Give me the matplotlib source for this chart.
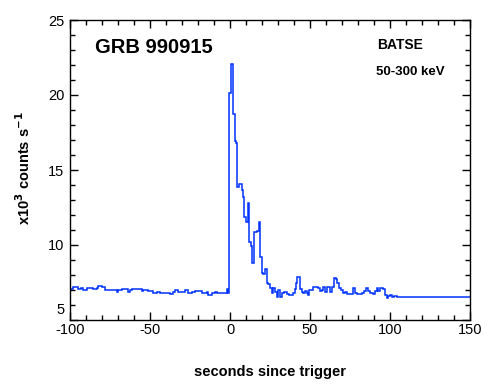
import numpy as np
import matplotlib
matplotlib.use("Agg")
import matplotlib.pyplot as plt
import matplotlib.transforms as mtransforms
from matplotlib.ticker import MultipleLocator

# bin start times (s since trigger) and count rates (x10^3 counts/s)
t_pre = [-100, -97.9, -94.8, -93.3, -91.7, -89.6, -85.4, -83.3, -82.3, -80.2,
         -78.1, -75, -70.8, -69.8, -67.7, -63.5, -62.5, -61.5, -59.4, -57.3,
         -55.2, -54.2, -51, -47.9, -45.8, -43.75, -41.7, -37.5, -35.4, -34.4,
         -32.3, -30.2, -28.1, -26, -24, -21.9, -18.75, -17.7, -14.6, -13.5,
         -11.5, -9.4, -8.3, -2.1, -1.0]
rate_pre = [7.04, 7.18, 7.04, 7.13, 7.0, 7.11, 7.04, 7.13, 7.27, 7.18,
            7.0, 7.0, 6.84, 7.0, 7.04, 6.89, 7.0, 7.09, 7.04, 7.09,
            6.91, 7.0, 6.91, 6.82, 6.89, 6.78, 6.82, 6.73, 6.87, 7.0,
            6.87, 6.84, 7.0, 6.78, 6.87, 6.91, 6.96, 6.78, 6.87, 6.69,
            6.78, 6.84, 6.78, 7.04, 6.78]

t_post = [-0.5, 0.8, 1.7, 2.9, 3.75, 4.6, 5.8, 7.3, 7.9, 9.0,
          9.8, 11.0, 12.1, 12.9, 14.0, 15.2, 17.1, 18.1, 18.75, 19.8,
          20.8, 22.1, 23.3, 24.0, 25.2, 26.5, 27.1, 28.1, 29.2, 30.2,
          31.25, 32.3, 33.75, 35.4, 37.1, 39.2, 40.6, 41.25, 42.1, 43.75,
          44.8, 45.8, 46.9, 47.9, 49.0, 49.6, 52.1, 55.2, 56.25, 57.3,
          58.3, 59.4, 60.4, 62.5, 63.5, 65.0, 66.25, 67.1, 67.9, 69.2,
          70.4, 71.9, 73.3, 77.1, 78.1, 79.2, 82.3, 83.75, 85.0, 86.5,
          87.5, 89.6, 90.6, 91.7, 92.7, 93.75, 95.8, 97.1, 97.9, 99.0,
          100.0, 101.0, 102.7, 104.2]
rate_post = [20.11, 22.07, 18.71, 16.93, 16.78, 13.84, 14.04, 13.67, 13.22, 11.89,
             11.56, 12.78, 10.22, 9.96, 8.78, 10.89, 10.93, 11.56, 9.22, 8.11,
             8.07, 8.38, 7.49, 7.4, 7.11, 6.82, 7.11, 6.89, 6.56, 7.0,
             6.56, 6.78, 6.84, 6.73, 6.67, 6.78, 7.04, 7.44, 7.89, 7.04,
             6.89, 6.78, 6.96, 6.82, 6.67, 7.0, 7.18, 7.11, 6.96, 7.0,
             7.18, 6.89, 7.18, 6.89, 7.18, 7.78, 7.71, 7.49, 7.11, 7.0,
             6.82, 6.89, 6.73, 7.11, 6.82, 6.73, 6.82, 6.96, 7.11, 6.96,
             6.82, 6.73, 6.96, 7.11, 6.96, 7.11, 7.04, 6.67, 6.44, 6.6,
             6.67, 6.56, 6.6, 6.51]
t_end = 150

x_ticks = [-100, -50, 0, 50, 100, 150]
y_ticks = [5, 10, 15, 20, 25]

plt.rcParams['font.family'] = ['Liberation Sans', 'DejaVu Sans']
plt.rcParams['axes.unicode_minus'] = False

edges = np.array(t_pre + t_post + [t_end])
rates = np.array(rate_pre + rate_post)

fig = plt.figure(figsize=(4.9, 3.9), dpi=100)
ax = fig.add_axes([70 / 490, 1 - 320 / 390, 400 / 490, 300 / 390])

ax.stairs(rates, edges, color='#0033ff', lw=1.1, baseline=None)

ax.set_xlim(-100, 150)
ax.set_ylim(5, 25)
ax.set_xticks(x_ticks)
ax.set_yticks(y_ticks)
ax.xaxis.set_minor_locator(MultipleLocator(10))
ax.yaxis.set_minor_locator(MultipleLocator(1))
ax.tick_params(which='both', direction='in', top=True, right=True,
               width=1, labelsize=10.5)
ax.tick_params(which='major', length=6)
ax.tick_params(which='minor', length=3.5)
ax.tick_params(axis='x', pad=2)
ax.tick_params(axis='y', pad=4)
for s in ax.spines.values():
    s.set_linewidth(1)

# bottom y label sits a little higher, as in the original
fig.canvas.draw()
lab5 = ax.get_yticklabels()[0]
lab5.set_transform(lab5.get_transform() +
                   mtransforms.ScaledTranslation(0, 8 / 72, fig.dpi_scale_trans))

ax.text(-84.5, 22.78, 'GRB 990915', fontsize=14.5, fontweight='bold')
ax.text(91.7, 23.05, 'BATSE', fontsize=10, fontweight='bold')
ax.text(91.0, 21.33, '50-300 keV', fontsize=9.5, fontweight='bold')

fig.text(270 / 490, 1 - 372 / 390, 'seconds since trigger', ha='center',
         va='center', fontsize=10.5, fontweight='bold')
fig.text(24 / 490, 1 - 168 / 390, r'x10$^{\mathbf{3}}$ counts s$^{\mathbf{-1}}$',
         rotation=90, ha='center', va='center', fontsize=10.5, fontweight='bold')

fig.savefig('out.png', dpi=100)
